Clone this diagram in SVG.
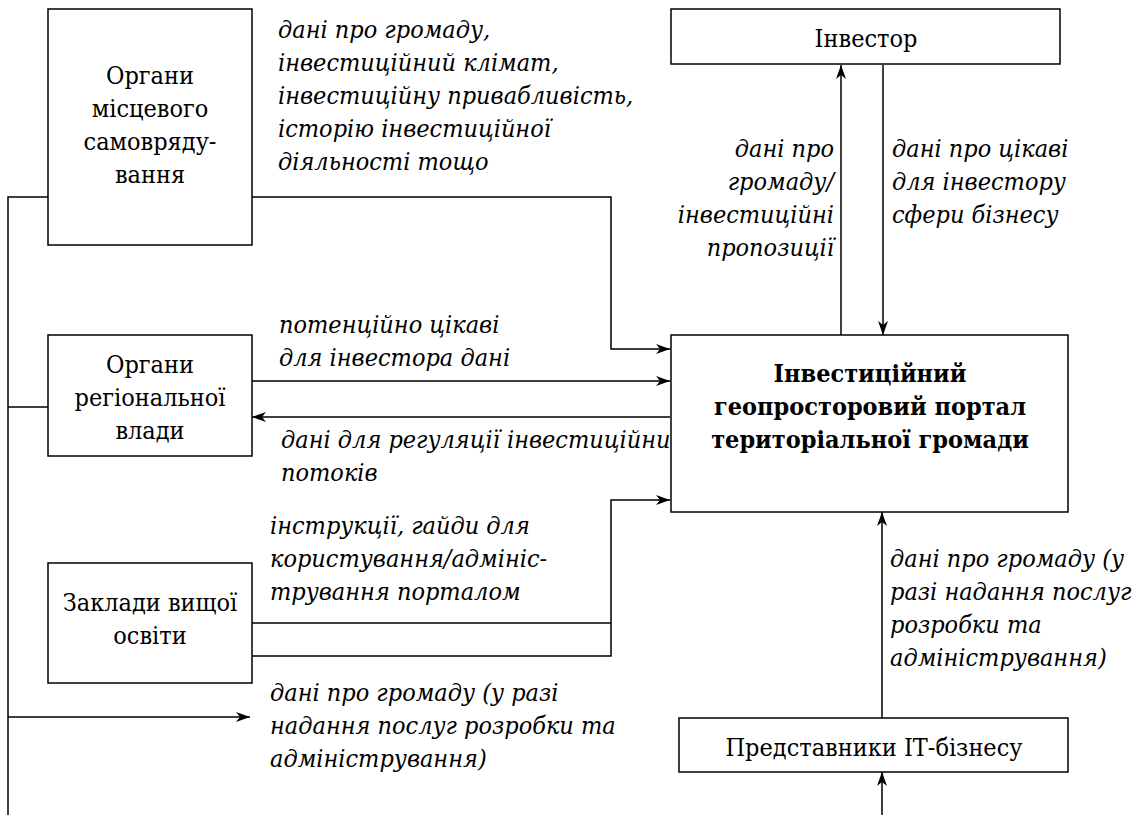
<svg xmlns="http://www.w3.org/2000/svg" width="1144" height="815" viewBox="0 0 1144 815">
<style>
.box{fill:#fff;stroke:#000;stroke-width:1.5}
.ln{fill:none;stroke:#000;stroke-width:1.5}
.t{font-family:"DejaVu Serif Condensed","DejaVu Serif",serif;font-stretch:condensed;font-size:25px;fill:#000}
.c{text-anchor:middle}
.i{font-style:italic}
.b{font-weight:bold}
.r{text-anchor:end}
</style>
<defs>
<marker id="ar" viewBox="0 0 14 10" refX="14" refY="5" markerWidth="14" markerHeight="10" markerUnits="userSpaceOnUse" orient="auto">
<path d="M0,0 L14,5 L0,10 L4,5 z" fill="#000"/>
</marker>
</defs>
<rect width="1144" height="815" fill="#fff"/>

<g id="labels">
<text class="t i" x="278"><tspan x="278" y="38">дані про громаду,</tspan><tspan x="278" y="71">інвестиційний клімат,</tspan><tspan x="278" y="104">інвестиційну привабливість,</tspan><tspan x="278" y="137">історію інвестиційної</tspan><tspan x="278" y="170">діяльності тощо</tspan></text>
<text class="t i r"><tspan x="834" y="157">дані про</tspan><tspan x="834" y="190">громаду/</tspan><tspan x="834" y="223">інвестиційні</tspan><tspan x="834" y="256">пропозиції</tspan></text>
<text class="t i"><tspan x="892" y="157">дані про цікаві</tspan><tspan x="892" y="190">для інвестору</tspan><tspan x="892" y="223">сфери бізнесу</tspan></text>
<text class="t i"><tspan x="279" y="333">потенційно цікаві</tspan><tspan x="279" y="366">для інвестора дані</tspan></text>
<text class="t i"><tspan x="281" y="448">дані для регуляції інвестиційних</tspan><tspan x="281" y="481">потоків</tspan></text>
<text class="t i"><tspan x="270" y="534">інструкції, гайди для</tspan><tspan x="270" y="567">користування/адмініс-</tspan><tspan x="270" y="600">трування порталом</tspan></text>
<text class="t i"><tspan x="270" y="701">дані про громаду (у разі</tspan><tspan x="270" y="734">надання послуг розробки та</tspan><tspan x="270" y="767">адміністрування)</tspan></text>
<text class="t i"><tspan x="890" y="567">дані про громаду (у</tspan><tspan x="890" y="600">разі надання послуг</tspan><tspan x="890" y="633">розробки та</tspan><tspan x="890" y="666">адміністрування)</tspan></text>
</g>

<g id="connectors">
<path class="ln" d="M8,815 V197 H48"/>
<path class="ln" d="M8,407 H48"/>
<path class="ln" d="M252,197 H611 V349 H670" marker-end="url(#ar)"/>
<path class="ln" d="M252,381 H670" marker-end="url(#ar)"/>
<path class="ln" d="M670,417 H252" marker-end="url(#ar)"/>
<path class="ln" d="M252,623 H611 M252,656 H611 V500 H670" marker-end="url(#ar)"/>
<path class="ln" d="M8,717 H250" marker-end="url(#ar)"/>
<path class="ln" d="M841,335 V65" marker-end="url(#ar)"/>
<path class="ln" d="M883,65 V335" marker-end="url(#ar)"/>
<path class="ln" d="M882,718 V512" marker-end="url(#ar)"/>
<path class="ln" d="M882,815 V772" marker-end="url(#ar)"/>
</g>

<g id="node-local">
<rect class="box" x="48" y="9" width="204" height="236"/>
<text class="t c"><tspan x="150" y="84">Органи</tspan><tspan x="150" y="117">місцевого</tspan><tspan x="150" y="150">самовряду-</tspan><tspan x="150" y="183">вання</tspan></text>
</g>
<g id="node-regional">
<rect class="box" x="48" y="335" width="204" height="121"/>
<text class="t c"><tspan x="150" y="373">Органи</tspan><tspan x="150" y="406">регіональної</tspan><tspan x="150" y="439">влади</tspan></text>
</g>
<g id="node-universities">
<rect class="box" x="48" y="563" width="204" height="120"/>
<text class="t c"><tspan x="150" y="611">Заклади вищої</tspan><tspan x="150" y="644">освіти</tspan></text>
</g>
<g id="node-investor">
<rect class="box" x="671" y="9" width="389" height="55"/>
<text class="t c" x="866" y="47">Інвестор</text>
</g>
<g id="node-portal">
<rect class="box" x="671" y="335" width="397" height="177"/>
<text class="t c b"><tspan x="870" y="382">Інвестиційний</tspan><tspan x="870" y="415">геопросторовий портал</tspan><tspan x="870" y="448">територіальної громади</tspan></text>
</g>
<g id="node-it">
<rect class="box" x="679" y="718" width="389" height="54"/>
<text class="t c" x="874" y="756">Представники ІТ-бізнесу</text>
</g>
</svg>
